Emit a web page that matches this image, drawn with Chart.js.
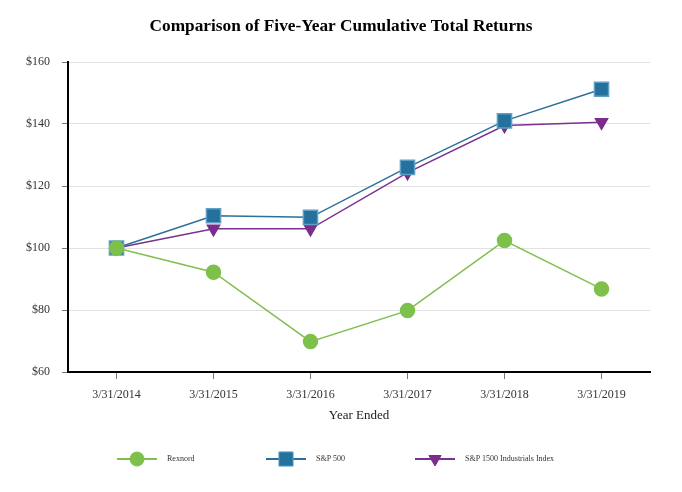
<!DOCTYPE html>
<html>
<head>
<meta charset="utf-8">
<script src="https://cdn.jsdelivr.net/npm/chart.js@4"></script>
<style>
  html, body { margin: 0; padding: 0; background: #fff; }
  #wrap { width: 682px; height: 492px; }
</style>
</head>
<body>
<div id="wrap"><canvas id="returnsChart" width="682" height="492"></canvas></div>
<script>
// values
const years = ['3/31/2014', '3/31/2015', '3/31/2016', '3/31/2017', '3/31/2018', '3/31/2019'];
const rexnord = [100, 92.2, 69.8, 79.8, 102.4, 86.8];
const sp500 = [100, 110.4, 109.9, 126.0, 141.0, 151.2];
const spIndustrials = [100, 106.2, 106.2, 124.3, 139.5, 140.6];

const titleText = 'Comparison of Five-Year Cumulative Total Returns';
const serif = "'Liberation Serif', 'DejaVu Serif', serif";

// title + legend (line with marker) drawn by hand
const titleAndLegend = {
    id: 'titleAndLegend',
    afterDraw(chart) {
        const ctx = chart.ctx;
        ctx.save();
        ctx.fillStyle = '#000';
        ctx.font = 'bold 17.3px ' + serif;
        ctx.textAlign = 'center';
        ctx.textBaseline = 'middle';
        ctx.fillText(titleText, chart.width / 2, 27);

        const y = 459;
        chart.data.datasets.forEach((ds, i) => {
            const x0 = 117 + i * 149;
            ctx.strokeStyle = ds.borderColor;
            ctx.lineWidth = 2;
            ctx.beginPath();
            ctx.moveTo(x0, y);
            ctx.lineTo(x0 + 40, y);
            ctx.stroke();
            ctx.fillStyle = ds.pointBackgroundColor;
            ctx.strokeStyle = ds.pointBorderColor;
            ctx.lineWidth = 1;
            Chart.helpers.drawPoint(ctx, {
                pointStyle: ds.pointStyle,
                rotation: ds.pointRotation || 0,
                radius: ds.pointRadius,
                borderWidth: 1
            }, x0 + 20, y);
            ctx.fillStyle = '#333';
            ctx.font = '8px ' + serif;
            ctx.textAlign = 'left';
            ctx.fillText(ds.label, x0 + 50, y);
        });
        ctx.restore();
    }
};

new Chart(document.getElementById('returnsChart'), {
    type: 'line',
    data: {
        labels: years,
        datasets: [{
            label: 'Rexnord',
            data: rexnord,
            borderColor: '#80bf4e',
            borderWidth: 1.5,
            pointStyle: 'circle',
            pointRadius: 7,
            pointBackgroundColor: '#7dc04a',
            pointBorderColor: '#7dc04a',
        }, {
            label: 'S&P 500',
            data: sp500,
            borderColor: '#2a7099',
            borderWidth: 1.5,
            pointStyle: 'rect',
            pointRadius: 10,
            pointBackgroundColor: '#23719c',
            pointBorderColor: '#5fa0c4',
        }, {
            label: 'S&P 1500 Industrials Index',
            data: spIndustrials,
            borderColor: '#7b3190',
            borderWidth: 1.5,
            pointStyle: 'triangle',
            pointRotation: 180,
            pointRadius: 7,
            pointBackgroundColor: '#7b2d8e',
            pointBorderColor: '#7b2d8e',
        }]
    },
    options: {
        responsive: false,
        animation: false,
        layout: { padding: { top: 62, right: 32, bottom: 65, left: 0 } },
        elements: { line: { tension: 0 }, point: { hoverRadius: 8 } },
        plugins: {
            legend: { display: false },
            title: { display: false },
            tooltip: { enabled: false }
        },
        scales: {
            x: {
                offset: true,
                afterFit: scale => { scale.height = 55; },
                grid: { offset: false, drawOnChartArea: false, drawTicks: true, tickLength: 7, color: '#777' },
                border: { color: '#000', width: 2 },
                ticks: { color: '#333', font: { family: serif, size: 12 }, padding: 9, maxRotation: 0 },
                title: { display: true, text: 'Year Ended', color: '#222', font: { family: serif, size: 13 }, padding: { top: 4 } }
            },
            y: {
                min: 60,
                max: 160,
                afterFit: scale => { scale.width = 68; },
                grid: { color: '#e2e2e2', tickLength: 6, tickColor: '#777' },
                border: { color: '#000', width: 2 },
                ticks: {
                    stepSize: 20,
                    color: '#333',
                    font: { family: serif, size: 12 },
                    padding: 12,
                    callback: v => '$' + v
                }
            }
        }
    },
    plugins: [titleAndLegend]
});
</script>
</body>
</html>
